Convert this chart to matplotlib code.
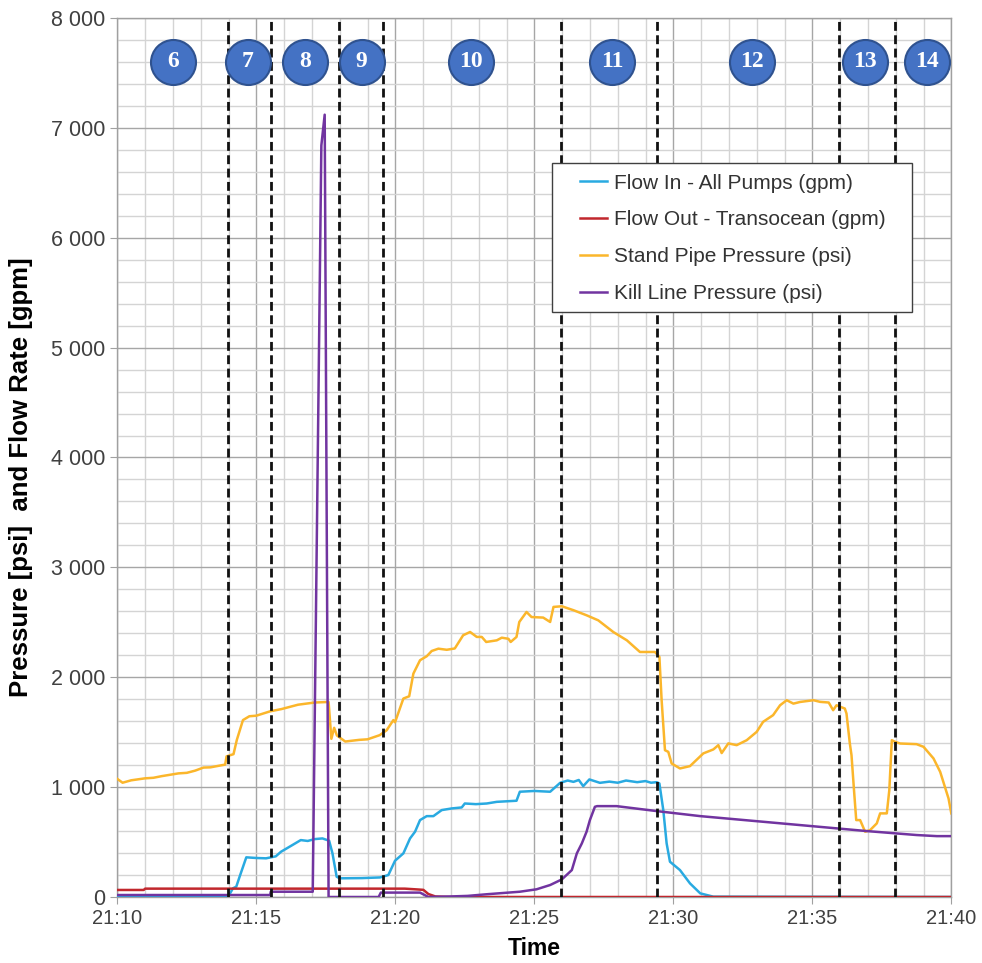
import numpy as np
import matplotlib
matplotlib.use('Agg')
import matplotlib.pyplot as plt
from matplotlib.patches import Rectangle

plt.rcParams['font.family'] = ['Liberation Sans', 'DejaVu Sans']

# time in minutes after 21:10
xTicks = [0, 5, 10, 15, 20, 25, 30]
xTickLabels = ['21:10', '21:15', '21:20', '21:25', '21:30', '21:35', '21:40']
yTicks = [0, 1000, 2000, 3000, 4000, 5000, 6000, 7000, 8000]
yTickLabels = ['0', '1\u00a0000', '2\u00a0000', '3\u00a0000', '4\u00a0000', '5\u00a0000',
               '6\u00a0000', '7\u00a0000', '8\u00a0000']

# Flow In - All Pumps (gpm)
flowInT = [0, 3.98, 4.16, 4.28, 4.4, 4.64, 5.0, 5.35, 5.7, 5.89, 6.3, 6.6, 6.85, 7.1, 7.38, 7.62,
           7.74, 7.89, 8.0, 8.8, 9.45, 9.75, 9.99, 10.29, 10.53, 10.71, 10.89, 11.13, 11.37, 11.67,
           12.03, 12.39, 12.5, 12.9, 13.29, 13.65, 14.36, 14.48, 15.0, 15.57, 15.93, 16.2, 16.41,
           16.6, 16.76, 16.98, 17.36, 17.7, 18.0, 18.3, 18.7, 19.0, 19.2, 19.4, 19.5, 19.64, 19.76,
           19.88, 20.24, 20.6, 20.97, 21.44, 30]
flowIn = [0, 0, 79, 94, 185, 361, 355, 352, 370, 412, 473, 518, 510, 527, 533, 512,
          397, 185, 170, 172, 178, 200, 330, 397, 533, 594, 700, 736, 736, 791,
          806, 815, 851, 845, 851, 866, 876, 958, 965, 958, 1039, 1060, 1048,
          1065, 1009, 1070, 1039, 1050, 1040, 1060, 1045, 1055, 1040, 1045, 1033, 791, 488,
          321, 245, 124, 33, 3, 0]

# Flow Out - Transocean (gpm)
flowOutT = [0, 0.95, 1.0, 10.34, 10.84, 11.01, 11.19, 11.44, 11.94, 30]
flowOut = [64, 64, 76, 76, 68, 65, 27, 5, 0, 0]

# Stand Pipe Pressure (psi)
sppT = [0, 0.19, 0.5, 1.0, 1.3, 1.6, 2.2, 2.5, 2.8, 3.1, 3.35, 3.6, 3.88, 3.93, 4.18, 4.3, 4.52,
        4.75, 5.0, 5.5, 5.9, 6.5, 7.1, 7.6, 7.7, 7.8, 7.9, 8.2, 8.7, 9.0, 9.44, 9.69, 9.93, 9.99,
        10.29, 10.5, 10.65, 10.89, 11.13, 11.31, 11.55, 11.85, 12.14, 12.44, 12.69, 12.93, 13.11,
        13.27, 13.65, 13.83, 14.07, 14.15, 14.36, 14.46, 14.72, 14.9, 15.32, 15.57, 15.69, 15.99,
        16.41, 16.88, 17.3, 17.84, 18.33, 18.8, 19.34, 19.5, 19.58, 19.7, 19.82, 19.94, 20.24,
        20.6, 21.08, 21.44, 21.62, 21.74, 21.98, 22.28, 22.64, 23.0, 23.23, 23.59, 23.84, 24.08,
        24.32, 24.56, 25.04, 25.28, 25.59, 25.75, 25.87, 26.17, 26.23, 26.35, 26.41, 26.5, 26.58,
        26.72, 26.9, 27.08, 27.32, 27.44, 27.68, 27.77, 27.86, 27.98, 28.16, 28.75, 29.0, 29.36,
        29.6, 29.9, 30]
spp = [1075, 1040, 1062, 1080, 1085, 1100, 1125, 1130, 1150, 1178, 1180, 1192, 1205, 1280, 1300,
       1430, 1610, 1645, 1650, 1690, 1710, 1750, 1770, 1775, 1440, 1540, 1470, 1415, 1430, 1435,
       1473, 1518, 1610, 1590, 1806, 1827, 2033, 2155, 2191, 2239, 2260, 2250, 2262, 2382, 2412,
       2367, 2367, 2321, 2336, 2360, 2350, 2321, 2367, 2503, 2594, 2548, 2543, 2503, 2640, 2646,
       2610, 2564, 2518, 2412, 2336, 2230, 2230, 2185, 1791, 1336, 1321, 1215, 1170, 1191, 1307,
       1343, 1382, 1310, 1398, 1382, 1427, 1503, 1594, 1655, 1745, 1791, 1760, 1775, 1791, 1776,
       1770, 1700, 1745, 1715, 1670, 1397, 1291, 973, 700, 700, 594, 609, 670, 761, 761, 973,
       1427, 1412, 1397, 1391, 1367, 1261, 1139, 897, 761]

# Kill Line Pressure (psi)
killT = [0, 5.5, 5.52, 7.03, 7.34, 7.46, 7.6, 9.4, 9.48, 10.89, 11.19, 12.0, 12.6, 13.29, 14.48,
         15.08, 15.57, 15.99, 16.35, 16.53, 16.71, 16.88, 17.0, 17.18, 17.26, 17.96, 19.4, 20.97,
         23.35, 24.98, 26.96, 28.75, 29.48, 30]
kill = [18, 18, 48, 48, 6840, 7120, 0, 0, 40, 40, 0, 5, 10, 25, 48,
        70, 109, 160, 245, 397, 488, 594, 700, 821, 827, 827, 782, 736,
        682, 645, 600, 564, 554, 554]

# phase boundaries and phase labels
phaseLines = [3.99, 5.53, 7.97, 9.55, 15.96, 19.40, 25.95, 27.97]
phaseNames = ['6', '7', '8', '9', '10', '11', '12', '13', '14']
phaseX = [2.01, 4.69, 6.74, 8.79, 12.71, 17.81, 22.82, 26.91, 29.12]
phaseY = 7600

fig = plt.figure(figsize=(9.82, 9.63), dpi=100)
ax = fig.add_axes([0.11945, 0.06854, 0.84929, 0.91277])

ax.plot(flowInT, flowIn, color='#29aae1', lw=1.8, label='Flow In - All Pumps (gpm)', zorder=3)
ax.plot(flowOutT, flowOut, color='#c1272d', lw=1.8, label='Flow Out - Transocean (gpm)', zorder=3)
ax.plot(sppT, spp, color='#fbb62b', lw=1.8, label='Stand Pipe Pressure (psi)', zorder=3)
ax.plot(killT, kill, color='#7134a0', lw=1.8, label='Kill Line Pressure (psi)', zorder=3)

for x in phaseLines:
    ax.axvline(x, color='#111111', lw=2.0, linestyle=(0, (3.2, 1.6)), zorder=4)

ax.scatter(phaseX, [phaseY] * len(phaseX), s=1050, color='#4472c4', edgecolor='#2f528f',
           linewidth=1.5, zorder=6, clip_on=False)
for x, name in zip(phaseX, phaseNames):
    ax.text(x, phaseY, name, color='white', fontsize=17, fontweight='bold',
            family='Liberation Serif', ha='center', va='center', zorder=7)

ax.set_xlim(0, 30)
ax.set_ylim(0, 8000)
ax.set_xticks(xTicks)
ax.set_xticklabels(xTickLabels)
ax.set_xticks(np.arange(0, 31, 1), minor=True)
ax.set_yticks(yTicks)
ax.set_yticklabels(yTickLabels)
ax.set_yticks(np.arange(0, 8001, 200), minor=True)

ax.grid(which='major', color='#a6a6a6', lw=1.0, zorder=0)
ax.grid(which='minor', color='#d4d4d4', lw=1.0, zorder=0)
ax.set_axisbelow(True)
for s in ax.spines.values():
    s.set_color('#a0a0a0')
    s.set_linewidth(1.0)

ax.tick_params(axis='both', which='major', labelsize=14.5, labelcolor='#404040',
               color='#a0a0a0', length=5)
ax.tick_params(axis='y', which='major', labelsize=15.5)
ax.tick_params(axis='both', which='minor', length=0)

ax.set_xlabel('Time', fontsize=16.5, fontweight='bold')
ax.xaxis.set_label_coords(0.5, -0.046)
ax.set_ylabel('Pressure [psi]  and Flow Rate [gpm]', fontsize=18.5, fontweight='bold')
ax.yaxis.set_label_coords(-0.101, 0.478)

# legend box
ax.add_patch(Rectangle((0.5212, 0.6655), 0.4317, 0.1695, transform=ax.transAxes,
                       facecolor='white', edgecolor='#404040', lw=1.0, zorder=8))
leg = ax.legend(loc='upper left', bbox_to_anchor=(0.5548, 0.823), frameon=False,
                fontsize=15, handlelength=1.3, handletextpad=0.33, labelspacing=0.86,
                borderpad=0, borderaxespad=0)
leg.set_zorder(9)
for t in leg.get_texts():
    t.set_color('#333333')

plt.savefig('out.png', dpi=100)
plt.close()
